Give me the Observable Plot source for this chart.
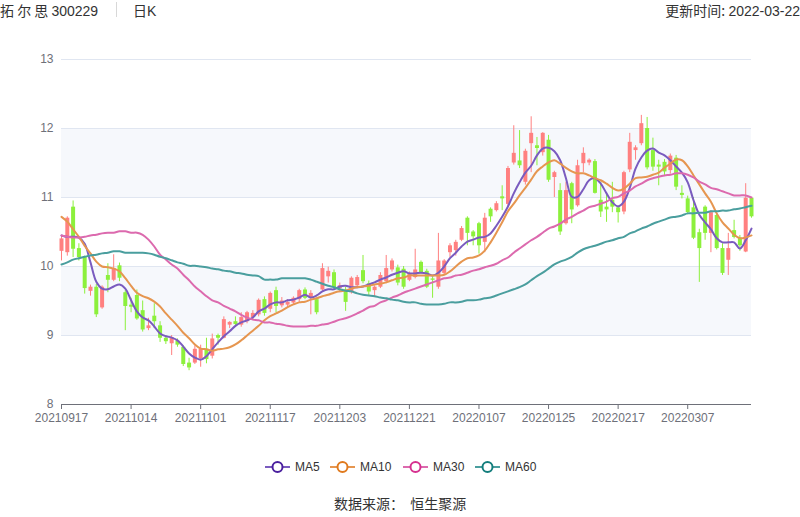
<!DOCTYPE html>
<html>
<head>
<meta charset="utf-8">
<script src="https://cdn.jsdelivr.net/npm/d3@7"></script>
<script src="https://cdn.jsdelivr.net/npm/@observablehq/plot@0.6"></script>
<style>
  body { margin: 0; background: #fff; }
  #wrap { position: relative; width: 800px; height: 517px; font-family: "Liberation Sans", Arial, "Noto Sans CJK SC", sans-serif; color: #333; }
  .abs { position: absolute; white-space: pre; }
  #chart { position: absolute; left: 0; top: 0; }
  .leg { position: absolute; top: 459px; height: 16px; display: flex; align-items: center; font-size: 12px; color: #333; }
  .leg svg { margin-right: 5px; }
</style>
</head>
<body>
<div id="wrap">
  <div id="chart"></div>
  <div class="abs" style="left:0;top:1px;font-size:14px;line-height:18px;font-family:'Noto Sans CJK SC','Liberation Sans',sans-serif;">拓 尔 思 <span style="font-family:'Liberation Sans',Arial,sans-serif">300229</span></div>
  <div class="abs" style="left:116px;top:2px;width:1px;height:15px;background:#d8d8d8;"></div>
  <div class="abs" style="left:133px;top:1px;font-size:14px;line-height:18px;font-family:'Noto Sans CJK SC',sans-serif;">日<span style="font-family:'Liberation Sans',Arial,sans-serif">K</span></div>
  <div class="abs" style="right:0;top:1px;font-size:14px;line-height:18px;font-family:'Noto Sans CJK SC',sans-serif;">更新时间: <span style="font-family:'Liberation Sans',Arial,sans-serif">2022-03-22</span></div>
  <div id="legend"></div>
  <div class="abs" style="left:334px;top:494px;font-size:14px;line-height:18px;font-family:'Noto Sans CJK SC',sans-serif;color:#333;">数据来源：  恒生聚源</div>
</div>
<script>
const dates = ["20210917","20210922","20210923","20210924","20210927","20210928","20210929","20210930",
"20211008","20211011","20211012","20211013","20211014","20211015","20211018","20211019","20211020","20211021","20211022","20211025","20211026","20211027","20211028","20211029",
"20211101","20211102","20211103","20211104","20211105","20211108","20211109","20211110","20211111","20211112","20211115","20211116","20211117","20211118","20211119","20211122","20211123","20211124","20211125","20211126","20211129","20211130",
"20211201","20211202","20211203","20211206","20211207","20211208","20211209","20211210","20211213","20211214","20211215","20211216","20211217","20211220","20211221","20211222","20211223","20211224","20211227","20211228","20211229","20211230","20211231",
"20220104","20220105","20220106","20220107","20220110","20220111","20220112","20220113","20220114","20220117","20220118","20220119","20220120","20220121","20220124","20220125","20220126","20220127","20220128",
"20220207","20220208","20220209","20220210","20220211","20220214","20220215","20220216","20220217","20220218","20220221","20220222","20220223","20220224","20220225","20220228",
"20220301","20220302","20220303","20220304","20220307","20220308","20220309","20220310","20220311","20220314","20220315","20220316","20220317","20220318","20220321","20220322"];

const tickDates = ["20210917","20211014","20211101","20211117","20211203","20211221","20220107","20220125","20220217","20220307"];

const open = [10.22,10.20,10.86,10.26,10.13,9.64,9.70,9.40,9.87,9.80,
10.01,9.62,9.44,9.58,9.36,9.10,9.28,9.14,8.96,8.88,
8.92,8.83,8.60,8.60,8.66,8.80,8.70,9.00,8.96,9.15,
9.20,9.15,9.20,9.26,9.30,9.52,9.38,9.65,9.43,9.44,
9.47,9.52,9.66,9.55,9.52,9.66,9.85,9.91,9.68,9.66,
9.62,9.72,9.94,9.75,9.65,9.70,9.78,9.95,9.98,9.96,
9.80,9.84,10.06,9.93,9.82,9.70,9.90,10.20,10.23,10.38,
10.70,10.50,10.62,10.35,10.83,10.81,11.01,10.90,11.50,11.53,
11.22,11.78,11.75,11.65,11.83,11.29,11.10,10.62,11.20,10.88,
11.49,11.50,11.52,10.96,10.86,10.96,10.85,10.79,11.40,11.68,
11.78,12.00,11.68,11.47,11.51,11.39,11.57,11.06,10.98,10.85,
10.49,10.86,10.48,10.74,10.26,10.09,10.52,10.41,10.21,10.99];

const close = [10.40,10.70,10.25,10.13,9.68,9.70,9.30,9.70,9.80,9.97,
9.83,9.42,9.41,9.24,9.08,9.14,9.20,8.96,8.91,8.97,
8.86,8.58,8.53,8.80,8.80,8.65,8.95,8.96,9.23,9.19,
9.16,9.26,9.33,9.32,9.51,9.32,9.61,9.42,9.50,9.48,
9.54,9.65,9.54,9.61,9.33,9.97,9.93,9.69,9.72,9.48,
9.83,9.84,9.78,9.63,9.70,9.87,9.97,10.08,9.76,9.70,
9.90,9.95,9.91,9.70,9.80,10.08,10.08,10.30,10.35,10.55,
10.48,10.43,10.30,10.70,10.72,10.91,10.98,11.42,11.64,11.46,
11.67,11.93,11.71,11.93,11.25,11.36,10.50,11.10,10.82,11.46,
11.64,11.54,11.06,10.79,10.82,10.86,10.78,11.36,11.80,11.72,
12.07,11.43,11.44,11.44,11.37,11.60,11.15,11.03,10.78,10.41,
10.26,10.48,10.78,10.26,9.90,10.26,10.42,10.30,10.99,10.72];

const high = [10.45,10.72,10.95,10.33,10.15,9.73,9.74,9.72,10.04,10.17,
10.05,9.65,9.54,9.66,9.50,9.25,9.46,9.20,9.00,9.00,
8.95,8.85,8.67,8.85,8.86,8.96,9.02,9.02,9.27,9.20,
9.27,9.33,9.35,9.36,9.53,9.56,9.63,9.70,9.55,9.52,
9.56,9.67,9.69,9.65,9.54,10.04,9.99,9.95,9.76,9.70,
9.85,9.87,10.16,9.79,9.72,9.91,10.16,10.11,10.02,10.00,
9.92,10.25,10.08,9.96,9.85,10.48,10.10,10.33,10.38,10.58,
10.72,10.52,10.64,10.77,10.85,10.94,11.17,11.45,12.04,11.97,
11.70,12.17,11.87,11.94,11.90,11.38,11.20,11.22,11.22,11.54,
11.72,11.56,11.55,11.22,11.03,11.22,10.88,11.38,11.93,11.75,
12.19,12.16,11.86,11.54,11.55,11.63,11.61,11.17,11.02,11.00,
10.54,10.88,10.81,10.77,10.33,10.48,10.67,10.45,11.20,11.00];

const low = [10.08,10.15,10.13,10.08,9.60,9.57,9.26,9.38,9.62,9.78,
9.78,9.07,9.33,9.22,9.05,9.07,9.10,8.90,8.87,8.71,
8.83,8.55,8.49,8.58,8.54,8.59,8.66,8.86,8.95,9.10,
9.12,9.12,9.17,9.22,9.27,9.28,9.33,9.33,9.40,9.40,
9.45,9.48,9.52,9.30,9.30,9.64,9.76,9.66,9.62,9.35,
9.60,9.68,9.75,9.58,9.55,9.68,9.75,9.92,9.72,9.67,
9.78,9.82,9.89,9.68,9.54,9.67,9.88,10.13,10.15,10.36,
10.30,10.30,10.18,10.20,10.64,10.79,10.81,10.86,11.47,11.42,
11.18,11.36,11.46,11.60,11.22,11.00,10.45,10.60,10.62,10.86,
11.36,11.46,11.05,10.71,10.64,10.78,10.63,10.75,11.36,11.54,
11.75,11.40,11.38,11.17,11.32,11.34,11.10,10.98,10.75,10.39,
9.77,10.38,10.20,10.24,9.87,9.87,10.40,10.22,10.20,10.70];

const ma5 = [10.45,10.43,10.43,10.42,10.33,10.06,9.78,9.68,9.67,9.71,
9.74,9.68,9.51,9.35,9.26,9.22,9.13,9.03,8.99,8.97,
8.93,8.84,8.74,8.68,8.65,8.70,8.80,8.90,8.99,9.06,
9.14,9.19,9.22,9.26,9.35,9.39,9.45,9.48,9.48,9.51,
9.52,9.55,9.59,9.55,9.58,9.64,9.67,9.67,9.71,9.72,
9.70,9.70,9.71,9.74,9.77,9.81,9.84,9.88,9.91,9.93,
9.90,9.90,9.91,9.90,9.87,9.91,10.00,10.12,10.20,10.29,
10.36,10.39,10.42,10.43,10.48,10.59,10.72,10.87,11.06,11.22,
11.36,11.46,11.61,11.71,11.72,11.67,11.54,11.28,11.01,11.01,
11.12,11.25,11.28,11.20,11.06,10.93,10.87,10.94,11.14,11.42,
11.58,11.68,11.71,11.65,11.61,11.54,11.45,11.36,11.22,10.96,
10.75,10.64,10.54,10.41,10.35,10.35,10.35,10.26,10.38,10.55];

const ma10 = [10.72,10.65,10.54,10.43,10.30,10.19,10.07,10.00,9.99,9.97,
9.93,9.83,9.72,9.62,9.57,9.54,9.49,9.42,9.32,9.23,
9.14,9.04,8.96,8.87,8.81,8.80,8.78,8.80,8.81,8.83,
8.87,8.93,9.00,9.07,9.14,9.22,9.28,9.32,9.36,9.41,
9.45,9.48,9.49,9.52,9.54,9.57,9.59,9.62,9.64,9.65,
9.68,9.70,9.71,9.72,9.74,9.75,9.77,9.80,9.83,9.84,
9.87,9.87,9.87,9.87,9.87,9.87,9.88,9.93,10.00,10.07,
10.12,10.13,10.16,10.23,10.35,10.49,10.64,10.80,10.91,11.03,
11.14,11.26,11.38,11.45,11.51,11.54,11.49,11.43,11.38,11.35,
11.35,11.32,11.28,11.25,11.20,11.14,11.10,11.13,11.20,11.28,
11.29,11.30,11.33,11.36,11.43,11.49,11.55,11.54,11.45,11.32,
11.19,11.06,10.94,10.77,10.64,10.55,10.46,10.41,10.42,10.45];

const ma30 = [10.45,10.43,10.42,10.42,10.43,10.45,10.46,10.48,10.49,10.49,
10.51,10.51,10.49,10.49,10.46,10.39,10.29,10.17,10.10,10.03,
9.97,9.88,9.80,9.71,9.64,9.57,9.51,9.48,9.43,9.39,
9.35,9.30,9.26,9.23,9.22,9.19,9.19,9.17,9.16,9.14,
9.13,9.13,9.13,9.14,9.14,9.16,9.17,9.20,9.23,9.25,
9.28,9.32,9.36,9.41,9.43,9.48,9.51,9.55,9.58,9.62,
9.65,9.68,9.71,9.74,9.77,9.80,9.83,9.84,9.87,9.88,
9.91,9.94,9.96,9.99,10.01,10.04,10.09,10.13,10.20,10.26,
10.32,10.38,10.43,10.49,10.55,10.58,10.62,10.68,10.72,10.77,
10.81,10.86,10.88,10.91,10.94,10.99,11.01,11.06,11.10,11.16,
11.20,11.25,11.28,11.30,11.32,11.33,11.35,11.35,11.33,11.29,
11.23,11.19,11.14,11.12,11.09,11.06,11.03,11.03,11.03,11.00];

const ma60 = [10.03,10.06,10.10,10.12,10.14,10.16,10.17,10.19,10.20,10.22,
10.22,10.20,10.20,10.20,10.20,10.19,10.17,10.14,10.12,10.09,
10.06,10.04,10.01,10.01,10.00,9.99,9.97,9.96,9.94,9.93,
9.91,9.90,9.88,9.87,9.86,9.81,9.81,9.81,9.83,9.83,
9.83,9.83,9.83,9.81,9.78,9.75,9.72,9.70,9.67,9.65,
9.64,9.61,9.59,9.58,9.57,9.55,9.54,9.52,9.51,9.49,
9.48,9.48,9.46,9.45,9.45,9.45,9.46,9.48,9.48,9.49,
9.51,9.51,9.52,9.54,9.55,9.58,9.61,9.64,9.67,9.70,
9.74,9.80,9.86,9.91,9.97,10.03,10.07,10.10,10.14,10.20,
10.25,10.28,10.30,10.33,10.36,10.38,10.41,10.43,10.48,10.51,
10.55,10.58,10.62,10.65,10.68,10.71,10.72,10.74,10.77,10.77,
10.78,10.78,10.80,10.80,10.81,10.81,10.83,10.84,10.86,10.88];

const yTicks = [8, 9, 10, 11, 12, 13];
const bands = [{lo: 9, hi: 10}, {lo: 11, hi: 12}];
const series = [
  {name: "MA5", values: ma5, line: "#7a5bbf", dot: "#4a1f9e"},
  {name: "MA10", values: ma10, line: "#e69650", dot: "#e07a1e"},
  {name: "MA30", values: ma30, line: "#dc6aae", dot: "#d6308f"},
  {name: "MA60", values: ma60, line: "#4a9e9e", dot: "#137d7c"}
];
const UP = "#ff8080", DOWN = "#8cf03c";

const candles = dates.map((d, i) => ({date: d, open: open[i], close: close[i], high: high[i], low: low[i]}));
const ups = candles.filter(d => d.close >= d.open);
const downs = candles.filter(d => d.close < d.open);

const marks = [
  Plot.rect(bands, {y1: "lo", y2: "hi", fill: "#f6f8fc"}),
  Plot.gridY(yTicks.slice(1), {stroke: "#e0e6f1", strokeOpacity: 1}),
  Plot.axisY(yTicks, {tickSize: 0, tickPadding: 8, fill: "#6e7079", fontSize: 12, tickFormat: d => String(d)}),
  Plot.axisX(tickDates, {tickSize: 5, tickPadding: 4, stroke: "#6e7079", fill: "#6e7079", fontSize: 12}),
  Plot.ruleY([8], {stroke: "#6e7079"}),
  Plot.ruleX(ups, {x: "date", y1: "low", y2: "high", stroke: UP, strokeWidth: 1}),
  Plot.ruleX(downs, {x: "date", y1: "low", y2: "high", stroke: DOWN, strokeWidth: 1}),
  Plot.ruleX(ups, {x: "date", y1: "open", y2: "close", stroke: UP, strokeWidth: 4}),
  Plot.ruleX(downs, {x: "date", y1: "open", y2: "close", stroke: DOWN, strokeWidth: 4})
];
for (const s of series) {
  marks.push(Plot.line(dates.map((d, i) => ({date: d, v: s.values[i]})), {x: "date", y: "v", stroke: s.line, strokeWidth: 2, curve: "catmull-rom"}));
}

const chart = Plot.plot({
  width: 800,
  height: 517,
  marginTop: 59,
  marginBottom: 113,
  marginLeft: 61,
  marginRight: 49,
  style: {fontFamily: "'Liberation Sans', Arial, sans-serif", fontSize: "12px", background: "transparent", overflow: "visible"},
  x: {type: "point", domain: dates, padding: 0, label: null, axis: null},
  y: {domain: [8, 13], label: null, axis: null},
  marks
});
document.getElementById("chart").appendChild(chart);

const legendPos = [265, 330, 403, 475];
const legend = document.getElementById("legend");
series.forEach((s, k) => {
  const el = document.createElement("div");
  el.className = "leg";
  el.style.left = legendPos[k] + "px";
  el.innerHTML = `<svg width="25" height="14"><line x1="0" y1="7" x2="25" y2="7" stroke="${s.line}" stroke-width="2"/><circle cx="12.5" cy="7" r="5" fill="#fff" stroke="${s.dot}" stroke-width="2"/></svg><span>${s.name}</span>`;
  legend.appendChild(el);
});
</script>
</body>
</html>
